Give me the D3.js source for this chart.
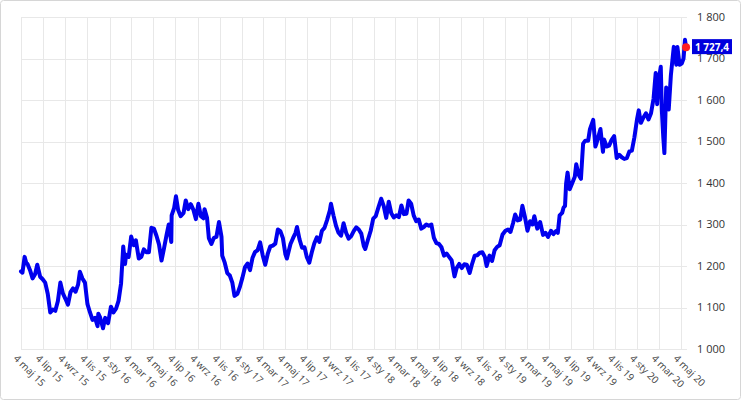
<!DOCTYPE html>
<html><head><meta charset="utf-8">
<script src="https://cdn.jsdelivr.net/npm/d3@7"></script>
<style>
html,body{margin:0;padding:0;background:#fff;}
svg{display:block;font-family:"Open Sans","DejaVu Sans",sans-serif;}
</style></head>
<body>
<svg id="chart" width="741" height="400"></svg>
<script>
// ---- data ----
const dates = [
"2015-05-04","2015-05-08","2015-05-14","2015-05-19","2015-05-22","2015-05-29","2015-06-05","2015-06-12","2015-06-18","2015-06-26",
"2015-07-03","2015-07-10","2015-07-17","2015-07-24","2015-07-31","2015-08-07","2015-08-14","2015-08-21","2015-08-28","2015-09-04",
"2015-09-11","2015-09-18","2015-09-25","2015-10-02","2015-10-09","2015-10-14","2015-10-21","2015-10-28","2015-11-04","2015-11-11",
"2015-11-18","2015-11-25","2015-12-02","2015-12-04","2015-12-09","2015-12-17","2015-12-23","2015-12-31",
"2016-01-08","2016-01-15","2016-01-22","2016-01-29","2016-02-05","2016-02-11","2016-02-16","2016-02-19","2016-02-26","2016-03-04",
"2016-03-11","2016-03-17","2016-03-25","2016-04-01","2016-04-08","2016-04-15","2016-04-22","2016-04-29","2016-05-06","2016-05-13",
"2016-05-20","2016-05-27","2016-06-03","2016-06-10","2016-06-16","2016-06-23","2016-06-24","2016-07-01","2016-07-06","2016-07-12",
"2016-07-19","2016-07-27","2016-08-02","2016-08-09","2016-08-16","2016-08-23","2016-08-30","2016-09-06","2016-09-13","2016-09-20",
"2016-09-23","2016-09-30","2016-10-05","2016-10-12","2016-10-19","2016-10-26","2016-11-02","2016-11-09","2016-11-11","2016-11-18",
"2016-11-25","2016-12-02","2016-12-09","2016-12-15","2016-12-23","2016-12-30",
"2017-01-06","2017-01-13","2017-01-20","2017-01-27","2017-02-03","2017-02-10","2017-02-17","2017-02-24","2017-03-03","2017-03-10",
"2017-03-17","2017-03-24","2017-03-31","2017-04-07","2017-04-14","2017-04-21","2017-04-28","2017-05-05","2017-05-09","2017-05-19",
"2017-05-26","2017-06-02","2017-06-06","2017-06-13","2017-06-20","2017-06-27","2017-07-03","2017-07-10","2017-07-17","2017-07-24",
"2017-07-31","2017-08-07","2017-08-14","2017-08-21","2017-08-28","2017-09-05","2017-09-08","2017-09-15","2017-09-22","2017-09-29",
"2017-10-06","2017-10-13","2017-10-20","2017-10-27","2017-11-03","2017-11-10","2017-11-17","2017-11-24","2017-12-01","2017-12-08",
"2017-12-12","2017-12-19","2017-12-27",
"2018-01-03","2018-01-10","2018-01-17","2018-01-25","2018-02-01","2018-02-08","2018-02-15","2018-02-22","2018-03-01","2018-03-08",
"2018-03-15","2018-03-22","2018-03-29","2018-04-05","2018-04-11","2018-04-18","2018-04-25","2018-05-02","2018-05-09","2018-05-16",
"2018-05-23","2018-05-30","2018-06-06","2018-06-13","2018-06-20","2018-06-27","2018-07-04","2018-07-11","2018-07-18","2018-07-25",
"2018-08-01","2018-08-08","2018-08-16","2018-08-22","2018-08-29","2018-09-05","2018-09-12","2018-09-19","2018-09-27","2018-10-03",
"2018-10-11","2018-10-18","2018-10-25","2018-11-01","2018-11-08","2018-11-13","2018-11-21","2018-11-28","2018-12-05","2018-12-12",
"2018-12-19","2018-12-27",
"2019-01-04","2019-01-11","2019-01-18","2019-01-25","2019-01-31","2019-02-07","2019-02-14","2019-02-20","2019-02-27","2019-03-06",
"2019-03-13","2019-03-20","2019-03-25","2019-04-02","2019-04-10","2019-04-18","2019-04-25","2019-05-02","2019-05-10","2019-05-17",
"2019-05-24","2019-05-29","2019-06-03","2019-06-10","2019-06-14","2019-06-18","2019-06-21","2019-06-25","2019-07-01","2019-07-08",
"2019-07-15","2019-07-19","2019-07-26","2019-08-01","2019-08-07","2019-08-13","2019-08-21","2019-08-26","2019-09-04","2019-09-10",
"2019-09-13","2019-09-24","2019-10-01","2019-10-04","2019-10-11","2019-10-18","2019-10-25","2019-11-01","2019-11-08","2019-11-15",
"2019-11-22","2019-11-29","2019-12-06","2019-12-13","2019-12-20","2019-12-27",
"2020-01-03","2020-01-08","2020-01-14","2020-01-21","2020-01-28","2020-02-04","2020-02-11","2020-02-18","2020-02-24","2020-02-28",
"2020-03-03","2020-03-09","2020-03-12","2020-03-16","2020-03-19","2020-03-24","2020-03-31","2020-04-06","2020-04-14","2020-04-21",
"2020-04-24","2020-04-30","2020-05-06","2020-05-11","2020-05-15","2020-05-18"
];
const prices = [
1187,1184,1222,1206,1205,1190,1170,1180,1203,1174,
1168,1160,1133,1088,1095,1092,1115,1160,1134,1121,
1107,1137,1146,1138,1155,1186,1170,1160,1108,1088,
1070,1075,1055,1085,1076,1050,1075,1062,
1102,1088,1097,1116,1158,1247,1205,1227,1222,1271,
1250,1262,1218,1222,1240,1233,1233,1292,1290,1273,
1252,1213,1243,1275,1300,1258,1322,1340,1368,1335,
1320,1328,1358,1337,1349,1336,1313,1350,1320,1315,
1337,1316,1267,1253,1268,1270,1306,1270,1225,1208,
1183,1177,1160,1128,1133,1150,
1172,1197,1206,1190,1220,1234,1238,1257,1226,1203,
1229,1247,1249,1254,1288,1284,1267,1228,1218,1253,
1267,1280,1294,1264,1244,1245,1222,1208,1233,1255,
1269,1258,1285,1292,1310,1334,1350,1322,1297,1280,
1273,1303,1280,1266,1272,1284,1293,1288,1278,1248,
1241,1262,1285,
1314,1320,1340,1362,1345,1316,1355,1327,1317,1322,
1318,1346,1325,1326,1358,1350,1322,1308,1312,1290,
1294,1300,1297,1300,1268,1255,1253,1245,1225,1230,
1222,1214,1175,1195,1205,1195,1204,1203,1183,1203,
1225,1226,1232,1233,1222,1200,1225,1212,1238,1246,
1250,1276,
1285,1288,1282,1303,1324,1310,1312,1345,1318,1285,
1308,1300,1320,1290,1306,1275,1280,1270,1285,1277,
1284,1280,1322,1328,1341,1345,1399,1425,1385,1400,
1415,1445,1419,1410,1495,1502,1502,1530,1552,1488,
1495,1530,1475,1505,1488,1490,1504,1513,1460,1468,
1462,1458,1460,1476,1478,1510,
1552,1575,1545,1558,1568,1553,1568,1603,1665,1590,
1645,1680,1575,1510,1472,1630,1577,1660,1728,1685,
1728,1685,1688,1700,1745,1727.4
];
const yTicks = [1000,1100,1200,1300,1400,1500,1600,1700,1800];
const tickDates = [
"2015-05-04","2015-07-04","2015-09-04","2015-11-04","2016-01-04","2016-03-04","2016-05-04","2016-07-04",
"2016-09-04","2016-11-04","2017-01-04","2017-03-04","2017-05-04","2017-07-04","2017-09-04","2017-11-04",
"2018-01-04","2018-03-04","2018-05-04","2018-07-04","2018-09-04","2018-11-04","2019-01-04","2019-03-04",
"2019-05-04","2019-07-04","2019-09-04","2019-11-04","2020-01-04","2020-03-04","2020-05-04"
];
const tickLabels = [
"4 maj 15","4 lip 15","4 wrz 15","4 lis 15","4 sty 16","4 mar 16","4 maj 16","4 lip 16",
"4 wrz 16","4 lis 16","4 sty 17","4 mar 17","4 maj 17","4 lip 17","4 wrz 17","4 lis 17",
"4 sty 18","4 mar 18","4 maj 18","4 lip 18","4 wrz 18","4 lis 18","4 sty 19","4 mar 19",
"4 maj 19","4 lip 19","4 wrz 19","4 lis 19","4 sty 20","4 mar 20","4 maj 20"
];
const lastLabel = "1 727,4";

// ---- drawing ----
(function(){
const parse = d3.utcParse("%Y-%m-%d");
const data = dates.map((d,i)=>({date:parse(d), v:prices[i]}));
const svg = d3.select("#chart");
svg.append("rect").attr("x",0.5).attr("y",0.5).attr("width",740).attr("height",399)
  .attr("rx",3).attr("fill","#fff").attr("stroke","#d6d6d6");

const pL=21, pR=687, pT=17, pB=349;
const x = d3.scaleUtc().domain([parse("2015-05-04"), parse("2020-05-04")]).range([21, 681]);
const y = d3.scaleLinear().domain([1000,1800]).range([pB, pT]);

const fmt = v => d3.format(",")(v).replace(/,/g," ");

// vertical grid
svg.append("g").selectAll("line").data(tickDates).join("line")
  .attr("x1",d=>Math.round(x(parse(d)))+0.5).attr("x2",d=>Math.round(x(parse(d)))+0.5)
  .attr("y1",pT).attr("y2",pB)
  .attr("stroke","#e8e8e8").attr("stroke-width",1);
// horizontal grid
svg.append("g").selectAll("line").data(yTicks).join("line")
  .attr("x1",pL).attr("x2",pR)
  .attr("y1",d=>Math.round(y(d))+0.5).attr("y2",d=>Math.round(y(d))+0.5)
  .attr("stroke","#e8e8e8").attr("stroke-width",1);

// y labels (right)
svg.append("g").selectAll("text").data(yTicks).join("text")
  .attr("x",697).attr("y",d=>y(d)).attr("dy","0.35em")
  .attr("font-size",11).attr("fill","#333").text(d=>fmt(d));

// x labels rotated
svg.append("g").selectAll("text").data(tickDates).join("text")
  .attr("transform",d=>`translate(${x(parse(d))-3},${pB+5}) rotate(45)`)
  .attr("dy","0.71em")
  .attr("font-size",10).attr("fill","#444")
  .text((d,i)=>tickLabels[i]);

// line
const line = d3.line().x(d=>x(d.date)).y(d=>y(d.v)).curve(d3.curveLinear);
svg.append("path").datum(data).attr("d",line)
  .attr("fill","none").attr("stroke","#0000ee").attr("stroke-width",4)
  .attr("stroke-linejoin","round").attr("stroke-linecap","round");

// last value marker + label
const last = data[data.length-1];
svg.append("circle").attr("cx",x(last.date)).attr("cy",y(last.v)).attr("r",4).attr("fill","#ff1f1f");
const ly = y(last.v);
svg.append("rect").attr("x",692).attr("y",ly-8).attr("width",40).attr("height",15).attr("fill","#0000dd");
svg.append("text").attr("x",712).attr("y",ly).attr("dy","0.35em").attr("text-anchor","middle")
  .attr("font-size",10).attr("font-weight","bold").attr("fill","#fff").text(lastLabel);
})();
</script>
</body></html>
